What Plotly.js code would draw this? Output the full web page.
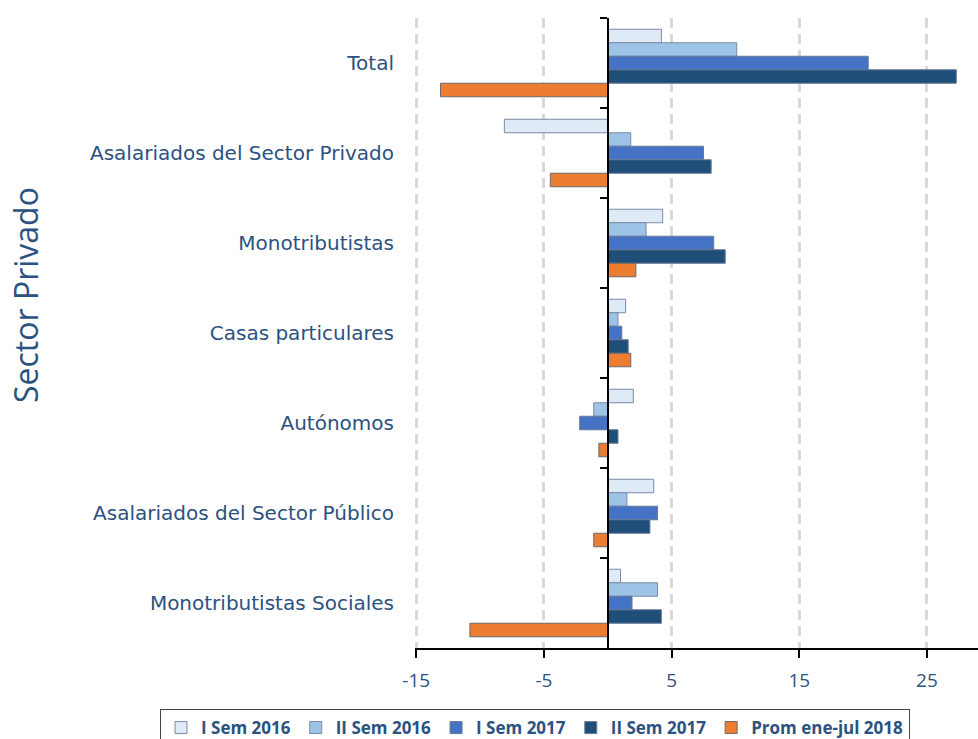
<!DOCTYPE html>
<html><head><meta charset="utf-8">
<script src="https://cdn.plot.ly/plotly-3.0.1.min.js"></script>
<style>html,body{margin:0;padding:0;background:#fff}#chart{width:978px;height:739px}</style>
</head><body><div id="chart"></div>
<script>
const categories = ["Total","Asalariados del Sector Privado","Monotributistas","Casas particulares","Autónomos","Asalariados del Sector Público","Monotributistas Sociales"];
const seriesNames = ["I Sem 2016","II Sem 2016","I Sem 2017","II Sem 2017","Prom ene-jul 2018"];
const iSem2016 = [4.2,-8.1,4.3,1.4,2.0,3.6,1.0];
const iiSem2016 = [10.1,1.8,3.0,0.8,-1.1,1.5,3.9];
const iSem2017 = [20.4,7.5,8.3,1.1,-2.2,3.9,1.9];
const iiSem2017 = [27.3,8.1,9.2,1.6,0.8,3.3,4.2];
const prom2018 = [-13.1,-4.5,2.2,1.8,-0.7,-1.1,-10.8];
const xTicks = [-15,-5,5,15,25];

const colors = ["#DEEAF6","#9DC3E6","#4472C4","#1F4E79","#ED7D31"];
const lines = ["#7A8AA6","#7A8AA6","#6A7A96","#6A7A96","#6A6A6A"];
const vals = [iSem2016,iiSem2016,iSem2017,iiSem2017,prom2018];
const txt = "#2B5281";

const traces = vals.map((v,i)=>({
  type:"bar", orientation:"h", name:seriesNames[i], x:v, y:categories,
  marker:{color:colors[i], line:{color:lines[i], width:1}}
}));
traces.push({type:"bar", orientation:"h", x:categories.map(()=>0), y:categories, yaxis:"y2", showlegend:false, hoverinfo:"skip", marker:{color:"rgba(0,0,0,0)"}});

const xmin=-15.1, xmax=29;
const W=978, H=739, ML=415, MT=18, MB=91;
const plotH = H-MT-MB, plotW = W-ML;
const layout = {
  width:W, height:H,
  margin:{l:ML, r:0, t:MT, b:MB, autoexpand:false},
  paper_bgcolor:"#fff", plot_bgcolor:"#fff",
  barmode:"group", bargap:0.25, bargroupgap:0,
  font:{family:"DejaVu Sans", color:txt},
  xaxis:{range:[xmin,xmax], tickvals:xTicks, ticktext:xTicks.map(String),
    showgrid:true, gridcolor:"#D9D9D9", gridwidth:3, griddash:"10px,6px",
    zeroline:false, showline:true, linecolor:"#000", linewidth:2,
    ticks:"outside", ticklen:8, tickwidth:2, tickcolor:"#000",
    ticklabelstandoff:6,
    tickfont:{family:"Open Sans", size:19, color:txt}},
  yaxis:{type:"category", categoryorder:"array", categoryarray:categories, range:[6.5,-0.5],
    showline:false, ticks:"", showgrid:false, zeroline:false,
    ticklabelstandoff:20,
    tickfont:{family:"DejaVu Sans", size:20, color:txt}},
  yaxis2:{type:"category", categoryorder:"array", categoryarray:categories, range:[6.5,-0.5],
    overlaying:"y", anchor:"free", position:(0-xmin)/(xmax-xmin), side:"left",
    showticklabels:false, showgrid:false, zeroline:false,
    showline:true, linecolor:"#000", linewidth:2,
    ticks:"outside", tickson:"boundaries", ticklen:7, tickwidth:2, tickcolor:"#000"},
  annotations:[{text:"Sector Privado", xref:"paper", yref:"paper",
    x:(25-ML)/plotW, y:(H-MB-295)/plotH, xanchor:"center", yanchor:"middle",
    textangle:-90, showarrow:false,
    font:{family:"Open Sans", size:32, color:txt}}],
  legend:{orientation:"h", xref:"paper", yref:"paper",
    x:(160-ML)/plotW, xanchor:"left", y:-(709-(H-MB))/plotH, yanchor:"top",
    bordercolor:"#444", borderwidth:1, bgcolor:"#fff",
    font:{family:"Open Sans", size:17, color:txt, weight:"bold"}, traceorder:"normal"},
  showlegend:true
};
Plotly.newPlot("chart", traces, layout, {displayModeBar:false, staticPlot:true});
</script></body></html>
